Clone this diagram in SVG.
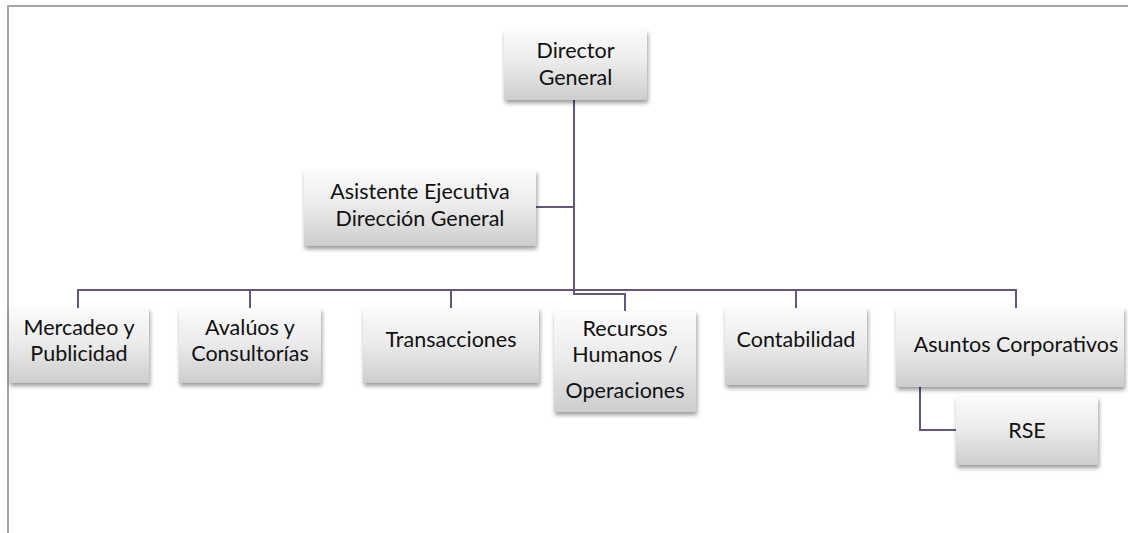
<svg xmlns="http://www.w3.org/2000/svg" width="1128" height="533" viewBox="0 0 1128 533">
<defs>
<linearGradient id="g" x1="0" y1="0" x2="0" y2="1">
<stop offset="0" stop-color="#fbfbfb"/>
<stop offset="0.45" stop-color="#ececec"/>
<stop offset="1" stop-color="#cdcdcd"/>
</linearGradient>
<filter id="sh" x="-10%" y="-10%" width="125%" height="135%">
<feDropShadow dx="1" dy="3" stdDeviation="2" flood-color="#000" flood-opacity="0.4"/>
</filter>
</defs>
<style>
.box{fill:url(#g);filter:url(#sh);}
.t{font-family:Lato,"Liberation Sans",sans-serif;font-size:21.5px;fill:#111;text-anchor:middle;}
.c{fill:none;stroke:#665487;stroke-width:2;}
.frame{fill:none;stroke:#a6a6a6;stroke-width:2;}
</style>
<rect width="1128" height="533" fill="#fff"/>
<path class="frame" d="M8,533 V6 H1128"/>
<g id="connectors">
<path class="c" d="M574,100 V294 H625 V311"/>
<path class="c" d="M536,207 H574"/>
<path class="c" d="M78,308 V290 H1016 V308"/>
<path class="c" d="M250,290 V308"/>
<path class="c" d="M451,290 V308"/>
<path class="c" d="M796,290 V308"/>
<path class="c" d="M920,387 V430 H956"/>
</g>
<g id="director">
<rect class="box" x="504" y="30" width="143" height="70"/>
<text class="t" x="575.5" y="58">Director</text>
<text class="t" x="575.5" y="85">General</text>
</g>
<g id="asistente">
<rect class="box" x="304" y="170" width="232" height="76"/>
<text class="t" x="420" y="199">Asistente Ejecutiva</text>
<text class="t" x="420" y="226">Dirección General</text>
</g>
<g id="mercadeo">
<rect class="box" x="9" y="308" width="140" height="75"/>
<text class="t" x="79" y="335">Mercadeo y</text>
<text class="t" x="79" y="361">Publicidad</text>
</g>
<g id="avaluos">
<rect class="box" x="179" y="308" width="142" height="75"/>
<text class="t" x="250" y="335">Avalúos y</text>
<text class="t" x="250" y="361">Consultorías</text>
</g>
<g id="transacciones">
<rect class="box" x="363" y="308" width="176" height="75"/>
<text class="t" x="451" y="347">Transacciones</text>
</g>
<g id="recursos">
<rect class="box" x="554" y="311" width="142" height="101"/>
<text class="t" x="625" y="336">Recursos</text>
<text class="t" x="625" y="362">Humanos /</text>
<text class="t" x="625" y="398">Operaciones</text>
</g>
<g id="contabilidad">
<rect class="box" x="725" y="308" width="142" height="77"/>
<text class="t" x="796" y="347">Contabilidad</text>
</g>
<g id="asuntos">
<rect class="box" x="896" y="308" width="228" height="79"/>
<text class="t" x="1016" y="352">Asuntos Corporativos</text>
</g>
<g id="rse">
<rect class="box" x="956" y="397" width="142" height="68"/>
<text class="t" x="1027" y="438">RSE</text>
</g>
</svg>
